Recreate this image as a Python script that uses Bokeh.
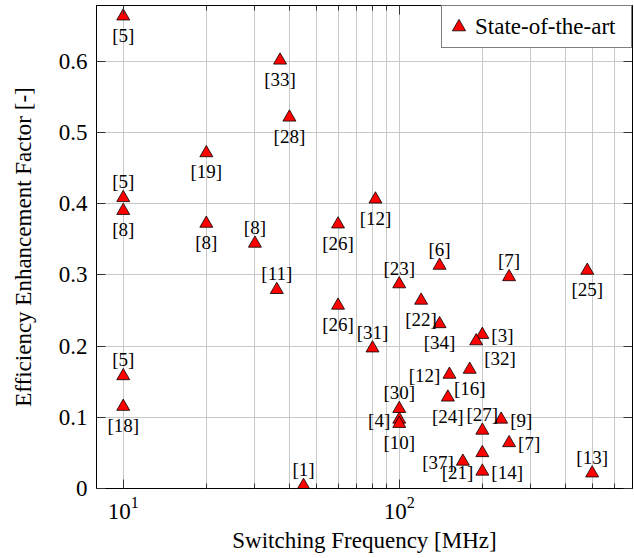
from bokeh.plotting import figure
from bokeh.models import (ColumnDataSource, FixedTicker, LogAxis, LinearAxis,
                          Legend, LegendItem, Range1d, CustomJSTickFormatter)
from bokeh.embed import file_html
from bokeh.resources import INLINE
from bokeh.core.properties import value

# Switching frequency [MHz] and efficiency enhancement factor of published converters
freq = [10, 37, 40, 20, 10, 10, 20, 30, 60, 82, 36, 60, 10, 10, 45,
        140, 250, 480, 100, 120, 140, 200, 190, 80, 152, 180, 150,
        100, 100, 100, 200, 234, 250, 170, 200, 200, 500]
eef = [0.663, 0.601, 0.521, 0.471, 0.408, 0.390, 0.372, 0.344, 0.371, 0.406,
       0.279, 0.257, 0.158, 0.115, 0.004,
       0.313, 0.297, 0.306, 0.287, 0.264, 0.231, 0.216, 0.207, 0.197, 0.160,
       0.167, 0.128, 0.112, 0.097, 0.091, 0.0815, 0.097, 0.064, 0.038, 0.050,
       0.024, 0.0215]
refs = ["[5]", "[33]", "[28]", "[19]", "[5]", "[8]", "[8]", "[8]", "[26]", "[12]",
        "[11]", "[26]", "[5]", "[18]", "[1]",
        "[6]", "[7]", "[25]", "[23]", "[22]", "[34]", "[3]", "[32]", "[31]", "[12]",
        "[16]", "[24]", "[30]", "[4]", "[10]", "[27]", "[9]", "[7]", "[37]", "[21]",
        "[14]", "[13]"]
# where each citation sits relative to its marker
label_side = ["b", "b", "b", "b", "a", "b", "b", "a", "b", "b",
              "a", "b", "a", "b", "a",
              "a", "a", "b", "a", "b", "b", "r", "br", "a", "l",
              "b", "b", "a", "l", "b", "a", "r", "r", "l", "bl",
              "r", "a"]

x_major = [10, 100]
x_minor = [20, 30, 40, 50, 60, 70, 80, 90, 200, 300, 400, 500, 600, 700]
y_ticks = [0, 0.1, 0.2, 0.3, 0.4, 0.5, 0.6]

SERIF = "Liberation Serif"
GRID = "#c8c8c8"

side_style = {
    "a": (0, -16, "center"),
    "b": (0, 19, "center"),
    "l": (-9, 1, "right"),
    "r": (9, 1, "left"),
    "br": (8, 17, "left"),
    "bl": (-9, 20, "right"),
}
source = ColumnDataSource(dict(
    freq=freq, eef=eef, ref=refs,
    dx=[side_style[s][0] for s in label_side],
    dy=[side_style[s][1] for s in label_side],
    align=[side_style[s][2] for s in label_side],
))

p = figure(x_axis_type="log", x_range=Range1d(8, 700), y_range=Range1d(0, 0.678),
           frame_width=536, frame_height=483,
           min_border_left=96, min_border_right=2, min_border_top=5, min_border_bottom=70,
           output_backend="svg", toolbar_location=None)
p.background_fill_color = "white"
p.border_fill_color = "white"
p.outline_line_color = "black"
p.outline_line_width = 1

x_ticker = FixedTicker(ticks=x_major, minor_ticks=x_minor)
y_ticker = FixedTicker(ticks=y_ticks, minor_ticks=[])

xa = p.xaxis[0]
xa.ticker = x_ticker
ya = p.yaxis[0]
ya.ticker = y_ticker
ya.formatter = CustomJSTickFormatter(code="return tick === 0 ? '0' : tick.toFixed(1);")

for ax in (xa, ya):
    ax.axis_line_color = "black"
    ax.major_tick_line_color = "#333333"
    ax.minor_tick_line_color = "#333333"
    ax.major_tick_in = 9
    ax.major_tick_out = 0
    ax.minor_tick_in = 5
    ax.minor_tick_out = 0
    ax.major_label_text_font = SERIF
    ax.major_label_text_font_size = "23px"
    ax.major_label_text_color = "black"
    ax.axis_label_text_font = SERIF
    ax.axis_label_text_font_size = "23px"
    ax.axis_label_text_font_style = "normal"
    ax.axis_label_text_color = "black"

xa.major_label_standoff = 8
xa.axis_label = "Switching Frequency [MHz]"
xa.axis_label_standoff = 6
ya.major_label_standoff = 9
ya.axis_label = "Efficiency Enhancement Factor [-]"
ya.axis_label_standoff = 20

# mirrored tick marks on the top and right edges
top = LogAxis(ticker=x_ticker, major_label_text_font_size="1px", major_label_standoff=0,
              major_label_text_alpha=0,
              major_tick_in=9, major_tick_out=0, minor_tick_in=5, minor_tick_out=0,
              axis_line_color="black", major_tick_line_color="#333333",
              minor_tick_line_color="#333333")
right = LinearAxis(ticker=y_ticker, major_label_text_font_size="1px", major_label_standoff=0,
                   major_label_text_alpha=0,
                   major_tick_in=9, major_tick_out=0, minor_tick_in=0, minor_tick_out=0,
                   axis_line_color="black", major_tick_line_color="#333333")
p.add_layout(top, "above")
p.add_layout(right, "right")

p.xgrid.ticker = x_ticker
p.xgrid.grid_line_color = GRID
p.xgrid.minor_grid_line_color = GRID
p.ygrid.ticker = y_ticker
p.ygrid.grid_line_color = GRID

pts = p.scatter("freq", "eef", source=source, marker="triangle", size=13,
                fill_color="#ff0000", line_color="black", line_width=0.8)
p.text("freq", "eef", text="ref", source=source, x_offset="dx", y_offset="dy",
       text_align="align", text_baseline="middle", text_font=value(SERIF),
       text_font_size="19px", text_color="black")

legend = Legend(items=[LegendItem(label="State-of-the-art", renderers=[pts])],
                location="top_right", margin=0, padding=0, spacing=0,
                glyph_width=33, glyph_height=41, label_standoff=-3,
                label_width=156, label_height=41,
                label_text_font=SERIF, label_text_font_size="23px",
                label_text_color="black",
                border_line_color="black", border_line_width=1,
                background_fill_color="white", background_fill_alpha=1)
p.add_layout(legend)

open("out.html", "w").write(file_html(p, INLINE))
